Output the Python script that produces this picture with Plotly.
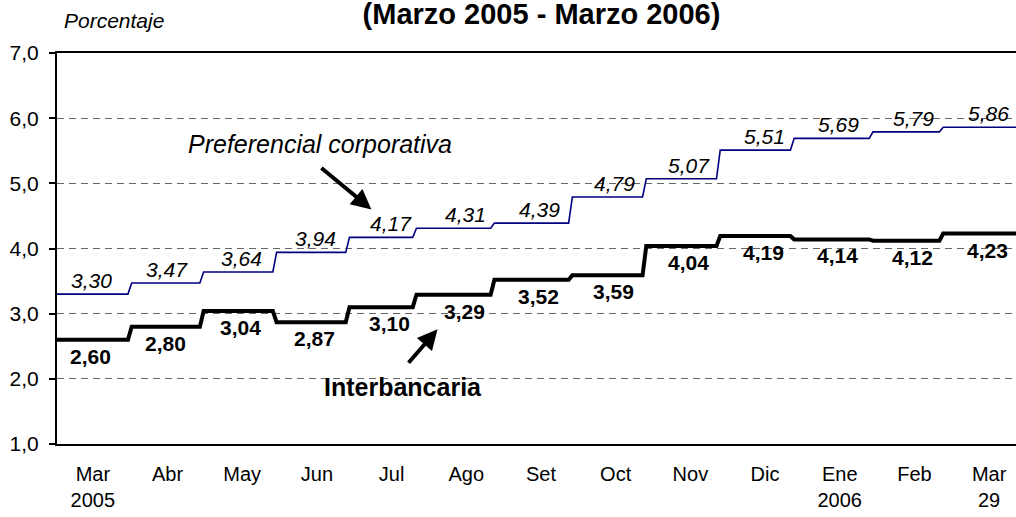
import plotly.graph_objects as go

# Datos
meses = ["Mar<br>2005", "Abr", "May", "Jun", "Jul", "Ago", "Set", "Oct",
         "Nov", "Dic", "Ene<br>2006", "Feb", "Mar<br>29"]
preferencial = [3.30, 3.47, 3.64, 3.94, 4.17, 4.31, 4.39, 4.79, 5.07, 5.51, 5.69, 5.79, 5.86]
interbancaria = [2.60, 2.80, 3.04, 2.87, 3.10, 3.29, 3.52, 3.59, 4.04, 4.19, 4.14, 4.12, 4.23]
# posicion (en meses) de cada cambio de tasa
cambios = [0.495, 1.458, 2.435, 3.411, 4.308, 5.351, 6.395, 7.385, 8.375, 9.365, 10.42, 11.36]
inicio, fin = -0.48, 12.36

FONT = "Liberation Sans, Arial, sans-serif"


def escalones(valores):
    # cada tramo se dibuja plano, con un pequeno desnivel entre tramos
    bordes = [inicio] + cambios + [fin + 0.2]
    xs, ys = [], []
    for i, v in enumerate(valores):
        a = bordes[i] + (0.025 if i > 0 else 0)
        b = bordes[i + 1] - (0.025 if i < len(valores) - 1 else 0)
        xs += [a, b]
        ys += [v, v]
    return xs, ys


fig = go.Figure()

x, y = escalones(preferencial)
fig.add_trace(go.Scatter(x=x, y=y, mode="lines", line=dict(color="#000080", width=1.6),
                         hoverinfo="skip", showlegend=False))
x, y = escalones(interbancaria)
fig.add_trace(go.Scatter(x=x, y=y, mode="lines", line=dict(color="black", width=4),
                         hoverinfo="skip", showlegend=False))

anots = []
for i, v in enumerate(preferencial):
    anots.append(dict(x=i, y=v, text=f"{v:.2f}".replace(".", ","), showarrow=False,
                      yanchor="bottom", xshift=-1, yshift=0,
                      font=dict(family=FONT, size=21, color="black", style="italic")))
for i, v in enumerate(interbancaria):
    anots.append(dict(x=i, y=v, text=f"<b>{v:.2f}</b>".replace(".", ","), showarrow=False,
                      yanchor="top", xshift=-2, yshift=-3,
                      font=dict(family=FONT, size=21, color="black")))

# leyendas con flecha
anots.append(dict(x=3.04, y=5.6, text="Preferencial corporativa", showarrow=False,
                  font=dict(family=FONT, size=25, color="black", style="italic")))
anots.append(dict(x=3.73, y=4.6, ax=3.04, ay=5.255, axref="x", ayref="y",
                  text="", showarrow=True, arrowhead=2, arrowsize=1, arrowwidth=4,
                  arrowcolor="black"))
anots.append(dict(x=4.15, y=1.87, text="<b>Interbancaria</b>", showarrow=False,
                  font=dict(family=FONT, size=25, color="black")))
anots.append(dict(x=4.615, y=2.76, ax=4.21, ay=2.224, axref="x", ayref="y",
                  text="", showarrow=True, arrowhead=2, arrowsize=1, arrowwidth=4,
                  arrowcolor="black"))
anots.append(dict(x=0.005, y=1.084, xref="paper", yref="paper", xanchor="left",
                  yanchor="middle", text="Porcentaje", showarrow=False,
                  font=dict(family=FONT, size=21, color="black", style="italic")))

fig.update_layout(
    width=1016, height=517,
    margin=dict(l=57, r=0, t=53, b=73),
    paper_bgcolor="white", plot_bgcolor="white",
    separators=",.",
    title=dict(text="<b>(Marzo 2005 - Marzo 2006)</b>", x=0.533, xanchor="center",
               y=1, yanchor="top", yref="container", pad=dict(t=4),
               font=dict(family=FONT, size=29, color="black")),
    annotations=anots,
    xaxis=dict(range=[inicio, fin], tickvals=list(range(len(meses))), ticktext=meses,
               showline=True, mirror=True, linecolor="black", linewidth=2,
               showgrid=False, zeroline=False, ticks="", ticklabelstandoff=11,
               automargin=False,
               tickfont=dict(family=FONT, size=20, color="black")),
    yaxis=dict(range=[1, 7], dtick=1, tickformat=".1f",
               showline=True, linecolor="black", linewidth=2,
               ticks="outside", ticklen=6, tickcolor="black", tickwidth=1.5,
               ticklabelstandoff=6, automargin=False,
               showgrid=True, gridcolor="#666666", gridwidth=1, griddash="7px,5px",
               zeroline=False,
               tickfont=dict(family=FONT, size=21, color="black")),
)

# sin margen de pagina, para que la figura ocupe la ventana completa
fig.write_html("out.html", config={"displayModeBar": False},
               post_script="document.body.style.margin='0';")
